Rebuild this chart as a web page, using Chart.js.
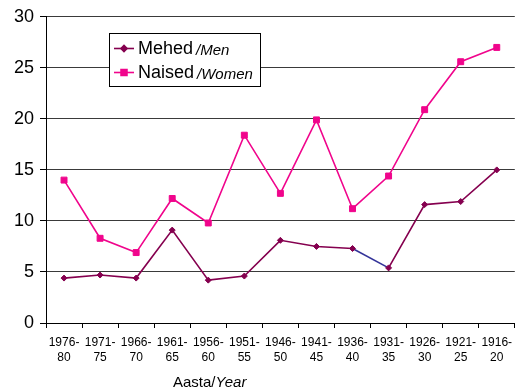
<!DOCTYPE html>
<html>
<head>
<meta charset="utf-8">
<script src="https://cdn.jsdelivr.net/npm/chart.js@4"></script>
<style>
  html, body { margin: 0; padding: 0; background: #fff; overflow: hidden; }
  #wrap { width: 515px; height: 392px; overflow: hidden; position: relative; }
  canvas { display: block; }
</style>
</head>
<body>
<div id="wrap"><canvas id="c" width="520" height="392"></canvas></div>
<script>
// Age groups (birth-year cohorts)
const periods = [
  ['1976-', '80'], ['1971-', '75'], ['1966-', '70'], ['1961-', '65'],
  ['1956-', '60'], ['1951-', '55'], ['1946-', '50'], ['1941-', '45'],
  ['1936-', '40'], ['1931-', '35'], ['1926-', '30'], ['1921-', '25'],
  ['1916-', '20']
];
const men   = [4.4, 4.7, 4.4, 9.1, 4.2, 4.6, 8.1, 7.5, 7.3, 5.4, 11.6, 11.9, 15.0];
const women = [14.0, 8.3, 6.9, 12.2, 9.8, 18.4, 12.7, 19.9, 11.2, 14.4, 20.9, 25.6, 27.0];
const yTicks = [0, 5, 10, 15, 20, 25, 30];

const menColor = '#85004f';
const womenColor = '#f0058c';
const FONT = '"Liberation Sans", Arial, sans-serif';

// Legend entries with a regular main name and an italic translation
const legendItems = [
  { name: 'Mehed', alt: '/Men', color: menColor, style: 'rectRot', r: 3 },
  { name: 'Naised', alt: '/Women', color: womenColor, style: 'rect', r: 4.2 }
];

const legendPlugin = {
  id: 'boxLegend',
  afterDatasetsDraw(chart) {
    const ctx = chart.ctx;
    const x0 = 109.5, y0 = 33.5, w = 151, h = 53;
    ctx.save();
    ctx.fillStyle = '#fff';
    ctx.fillRect(x0, y0, w, h);
    ctx.strokeStyle = '#000';
    ctx.lineWidth = 1;
    ctx.strokeRect(x0, y0, w, h);
    legendItems.forEach((it, i) => {
      const cy = 48.5 + i * 24;
      ctx.strokeStyle = it.color;
      ctx.lineWidth = 1.6;
      ctx.beginPath();
      ctx.moveTo(114, cy);
      ctx.lineTo(134, cy);
      ctx.stroke();
      ctx.fillStyle = it.color;
      Chart.helpers.drawPoint(ctx, { pointStyle: it.style, radius: it.r, borderWidth: 1 }, 124, cy);
      ctx.fill();
      ctx.fillStyle = '#000';
      ctx.textBaseline = 'middle';
      ctx.font = '18px ' + FONT;
      ctx.fillText(it.name, 138, cy + 1);
      const tw = ctx.measureText(it.name).width;
      ctx.font = 'italic 15px ' + FONT;
      ctx.fillText(it.alt, 138 + tw + 3, cy + 2);
    });
    ctx.restore();
  }
};

// X axis caption with regular and italic parts
const captionPlugin = {
  id: 'caption',
  afterDraw(chart) {
    const ctx = chart.ctx;
    ctx.save();
    ctx.fillStyle = '#000';
    ctx.textBaseline = 'middle';
    ctx.font = '15px ' + FONT;
    ctx.fillText('Aasta/', 173, 383);
    const tw = ctx.measureText('Aasta/').width;
    ctx.font = 'italic 15px ' + FONT;
    ctx.fillText('Year', 173 + tw, 383);
    ctx.restore();
  }
};

new Chart(document.getElementById('c'), {
  type: 'line',
  data: {
    labels: periods,
    datasets: [
      {
        label: 'Mehed/Men',
        data: men,
        borderColor: menColor,
        backgroundColor: menColor,
        borderWidth: 1.6,
        pointStyle: 'rectRot',
        pointRadius: 3,
        pointBorderWidth: 1,
        tension: 0,
        segment: {
          borderColor: c => c.p0DataIndex === 8 ? '#333399' : undefined
        }
      },
      {
        label: 'Naised/Women',
        data: women,
        borderColor: womenColor,
        backgroundColor: womenColor,
        borderWidth: 1.6,
        pointStyle: 'rect',
        pointRadius: 4.2,
        pointBorderWidth: 1,
        tension: 0
      }
    ]
  },
  options: {
    responsive: false,
    animation: false,
    devicePixelRatio: 1,
    layout: { padding: { top: 4, right: 0, left: 0, bottom: 0 } },
    plugins: {
      legend: { display: false },
      tooltip: { enabled: false }
    },
    scales: {
      x: {
        offset: true,
        grid: {
          offset: true,
          drawOnChartArea: false,
          drawTicks: true,
          tickLength: 5,
          tickColor: '#000'
        },
        border: { color: '#000', width: 1 },
        ticks: {
          color: '#000',
          font: { family: FONT, size: 12, lineHeight: 1.25 },
          maxRotation: 0,
          autoSkip: false,
          padding: 7
        },
        afterFit: s => { s.height = 69; }
      },
      y: {
        min: 0,
        max: 30,
        afterBuildTicks: s => { s.ticks = yTicks.map(v => ({ value: v })); },
        grid: {
          color: '#3a3a3a',
          lineWidth: 1,
          tickLength: 6,
          tickColor: '#000'
        },
        border: { color: '#000', width: 1 },
        ticks: {
          color: '#000',
          font: { family: FONT, size: 18 },
          padding: 6
        },
        afterFit: s => { s.width = 46; }
      }
    }
  },
  plugins: [legendPlugin, captionPlugin]
});
</script>
</body>
</html>
